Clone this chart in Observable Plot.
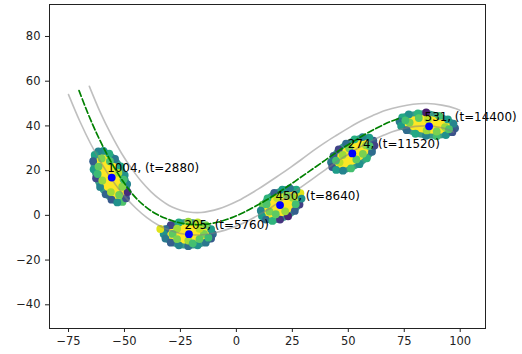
<!DOCTYPE html>
<html><head><meta charset="utf-8">
<script src="https://cdn.jsdelivr.net/npm/d3@7"></script>
<script src="https://cdn.jsdelivr.net/npm/@observablehq/plot@0.6"></script>
<style>html,body{margin:0;padding:0;background:#fff;}</style>
</head><body><div id="chart"></div>
<script>
const xTicks = [-75, -50, -25, 0, 25, 50, 75, 100];
const yTicks = [-40, -20, 0, 20, 40, 60, 80];

// lower road edge (passes through the clusters)
const lowerX = [-75,-70,-65,-60,-55,-50,-45,-40,-35,-30,-25,-20,-15,-10,-5,0,5,10,15,20,25,30,35,40,45,50,55,60,65,70,75,80,85,90,95,97];
const lowerY = [54.0,42.2,31.8,22.8,15.1,8.6,3.3,-1.0,-4.3,-6.6,-8.1,-8.7,-8.7,-7.9,-6.6,-4.8,-2.5,0.2,3.2,6.5,9.9,13.4,17.0,20.6,24.1,27.3,30.4,33.2,35.5,37.5,38.9,39.8,40.0,39.5,38.2,37.2];
// upper road edge
const upperX = [-65.7,-60.9,-56.1,-51.4,-46.8,-42.4,-38.1,-34.0,-30.1,-26.5,-22.9,-19.4,-15.8,-12.0,-8.0,-3.9,0.5,5.0,9.7,14.4,19.3,24.2,29.2,34.2,39.4,44.6,50.0,55.4,61.0,66.8,72.8,78.9,85.3,91.8,98.2,99.8];
const upperY = [57.7,46.3,36.4,27.9,20.9,15.1,10.5,7.0,4.4,2.8,1.7,1.3,1.3,1.9,2.9,4.4,6.4,8.9,11.7,14.8,18.1,21.5,25.1,28.8,32.4,35.7,39.0,42.1,44.7,47.0,48.6,49.7,50.0,49.3,47.7,47.0];
// green dashed estimate
const dashX = [-70.3,-66.5,-62.5,-58.5,-54.5,-50.5,-46.5,-42,-37,-32,-27,-22,-17,-12,-7,-2,3,8,13,18,23,28,33,38,43,48,53,58,63,68,73];
const dashY = [55.8,46.0,36.8,28.6,21.3,15.0,9.6,5.0,1.3,-1.2,-2.9,-3.9,-4.2,-3.8,-2.7,-1.0,1.2,3.8,6.6,9.7,13.0,16.5,20.0,23.5,27.0,30.4,33.5,36.5,39.2,41.6,43.5];

// cluster centroids and labels
const centX = [-55.7, -21.2, 19.5, 51.8, 86.1];
const centY = [16.9, -8.4, 4.6, 27.7, 39.8];
const counts = [1004, 205, 450, 274, 531];
const times = [2880, 5760, 8640, 11520, 14400];

// particle clouds: [x, y, value] (outer ring, then inner points)
const ring1004 = [[-50.9,6.0,0.72],[-49.3,7.6,0.25],[-48.6,10.4,0.12],[-48.8,14.0,0.45],[-49.9,18.0,0.5],[-51.7,21.9,0.6],[-54.2,25.2,0.4],[-56.8,27.6,0.62],[-59.4,28.8,0.5],[-61.7,28.6,0.45],[-63.3,27.0,0.58],[-64.0,24.2,0.3],[-63.8,20.6,0.55],[-62.7,16.6,0.22],[-60.9,12.7,0.45],[-58.4,9.4,0.32],[-55.8,7.0,0.28],[-53.2,5.8,0.5]];
const mid1004 = [[-52.4,9.2,0.78],[-51.0,12.8,0.82],[-52.7,19.0,0.88],[-56.5,24.2,0.72],[-60.2,25.4,0.8],[-61.6,21.8,0.76],[-59.9,15.6,0.84],[-56.1,10.4,0.86],[-50.4,16.0,0.7],[-62.0,18.5,0.68]];
const ring205 = [[-10.5,-8.3,0.35],[-11.3,-6.2,0.55],[-13.7,-4.4,0.8],[-17.3,-3.2,0.9],[-21.5,-2.8,0.85],[-25.7,-3.2,0.6],[-29.3,-4.4,0.2],[-31.7,-6.2,0.35],[-32.5,-8.3,0.5],[-31.7,-10.4,0.4],[-29.3,-12.2,0.3],[-25.7,-13.4,0.45],[-21.5,-13.8,0.35],[-17.3,-13.4,0.5],[-13.7,-12.2,0.4],[-11.3,-10.4,0.28]];
const mid205 = [[-14.5,-8.3,0.8],[-16.5,-6.0,0.9],[-26.5,-6.0,0.86],[-28.5,-8.3,0.75],[-26.5,-10.6,0.8],[-16.5,-10.6,0.75],[-21.5,-11.3,0.85],[-34.0,-6.1,0.95],[-19.5,-12.5,0.7],[-12.5,-10.0,0.68]];
const ring450 = [[28.6,9.9,0.95],[26.8,11.5,0.6],[23.9,12.1,0.4],[20.5,11.5,0.55],[16.9,10.0,0.3],[13.9,7.6,0.65],[11.8,4.8,0.78],[10.9,2.1,0.45],[11.4,-0.3,0.55],[13.2,-1.9,0.35],[16.1,-2.5,0.65],[19.5,-1.9,0.15],[23.1,-0.4,0.1],[26.1,2.0,0.3],[28.2,4.8,0.18],[29.1,7.5,0.5]];
const mid450 = [[25.2,7.9,0.85],[18.2,7.8,0.9],[14.8,1.7,0.8],[21.8,1.8,0.85],[22.4,9.1,0.8],[17.6,0.5,0.75],[13.5,5.0,0.72],[26.5,5.0,0.7]];
const ring274 = [[61.2,33.4,0.3],[59.4,34.8,0.55],[56.4,35.0,0.45],[52.8,34.0,0.62],[49.0,32.1,0.35],[45.7,29.5,0.2],[43.4,26.6,0.3],[42.3,23.8,0.4],[42.8,21.6,0.25],[44.6,20.3,0.55],[47.6,20.0,0.45],[51.2,21.0,0.7],[55.0,22.9,0.5],[58.3,25.5,0.65],[60.6,28.4,0.35],[61.7,31.2,0.2]];
const mid274 = [[57.9,31.3,0.85],[50.4,30.0,0.8],[46.1,23.7,0.9],[53.6,25.0,0.75],[47.5,27.0,0.85],[56.5,27.5,0.8],[44.5,24.5,0.7],[59.5,31.0,0.72]];
const ring531 = [[97.7,39.0,0.3],[97.0,41.0,0.45],[94.5,42.9,0.55],[90.6,44.5,0.7],[84.8,46.0,0.08],[81.1,45.6,0.65],[77.0,45.1,0.5],[74.1,43.8,0.6],[72.9,42.0,0.4],[73.6,40.0,0.55],[76.1,38.1,0.35],[80.0,36.5,0.6],[84.7,35.6,0.45],[89.5,35.4,0.7],[93.6,35.9,0.5],[96.5,37.2,0.25]];
const mid531 = [[93.2,39.5,0.85],[77.4,41.5,0.8],[85.6,43.0,0.9],[85.0,38.0,0.85],[81.5,43.5,0.75],[89.5,37.5,0.8],[75.5,42.5,0.7],[95.0,38.5,0.72]];

// build tables
const toPts = (xs, ys) => xs.map((x, i) => ({x, y: ys[i]}));
const lower = toPts(lowerX, lowerY);
const upper = toPts(upperX, upperY);
const dash = toPts(dashX, dashY);
const rings = [ring1004, ring205, ring450, ring274, ring531];
const mids = [mid1004, mid205, mid450, mid274, mid531];
const ringPts = rings.flatMap((r, k) => r.map(([x, y, v]) => ({x, y, v, c: k})));
const midPts = mids.flatMap((r, k) => r.map(([x, y, v]) => ({x, y, v, c: k})));
const cents = centX.map((x, i) => ({x, y: centY[i], label: `${counts[i]}, (t=${times[i]})`}));
const fmt = d3.format("d");

const chart = Plot.plot({
  width: 522, height: 354,
  marginLeft: 49, marginRight: 37, marginTop: 4, marginBottom: 26,
  style: {fontFamily: "'DejaVu Sans', sans-serif", fontSize: "11.5px", color: "#222", background: "#fff"},
  x: {domain: [-83.5, 111.3], ticks: xTicks, tickFormat: fmt, tickSize: 4, tickPadding: 4, label: null},
  y: {domain: [-50.6, 94.3], ticks: yTicks, tickFormat: fmt, tickSize: 4, tickPadding: 5, label: null},
  color: {type: "linear", scheme: "viridis", domain: [0, 1]},
  marks: [
    Plot.line(ringPts, {x: "x", y: "y", z: "c", fill: "#fde725", stroke: "#3a9a8a", strokeWidth: 5, curve: "catmull-rom-closed"}),
    Plot.dot(ringPts, {x: "x", y: "y", r: 3.9, fill: "v"}),
    Plot.dot(midPts, {x: "x", y: "y", r: 3.9, fill: "v"}),
    Plot.line(lower, {x: "x", y: "y", stroke: "#808080", strokeOpacity: 0.5, strokeWidth: 1.6, curve: "catmull-rom"}),
    Plot.line(upper, {x: "x", y: "y", stroke: "#808080", strokeOpacity: 0.5, strokeWidth: 1.6, curve: "catmull-rom"}),
    Plot.line(dash, {x: "x", y: "y", stroke: "green", strokeWidth: 1.7, strokeDasharray: "6.3,2.7", curve: "catmull-rom"}),
    Plot.dot(cents, {x: "x", y: "y", r: 3.9, fill: "blue"}),
    Plot.text(cents, {x: "x", y: "y", text: "label", textAnchor: "start", lineAnchor: "bottom", dx: -4.5, dy: -5.3, fill: "black", fontSize: 11.9}),
    Plot.frame({stroke: "#222"})
  ]
});
document.getElementById("chart").appendChild(chart);
</script>
</body></html>
